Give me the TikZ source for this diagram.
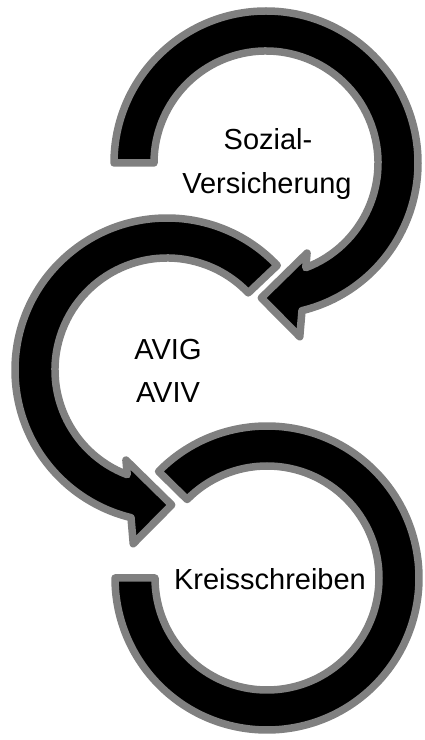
\documentclass[tikz,border=0pt]{standalone}
\usepackage{fontspec}
\setmainfont{Liberation Sans}
\begin{document}
\begin{tikzpicture}[x=1pt,y=1pt,
  ring/.style={fill=black,draw={rgb,255:red,128;green,128;blue,128},line width=7.5pt,line join=round},
  lbl/.style={font=\fontsize{29}{35}\selectfont,inner sep=0pt,anchor=base}]
\useasboundingbox (0,0) rectangle (425,740);
% circle 1 (top), clockwise with arrowhead
\begin{scope}[shift={(266,577)}]
\draw[ring] (180:152) arc[start angle=180,end angle=-76.3,radius=152]
  -- (-79:177) -- (-92:135) -- (-65.5:99) -- (-69.2:112)
  arc[start angle=-69.2,end angle=180,radius=112] -- cycle;
\end{scope}
% circle 2 (middle), counterclockwise with arrowhead
\begin{scope}[shift={(167,370)}]
\draw[ring] (43.5:152) arc[start angle=43.5,end angle=256.3,radius=152]
  -- (259:177) -- (272:135) -- (245.5:99) -- (249.2:112)
  arc[start angle=249.2,end angle=43.5,radius=112] -- cycle;
\end{scope}
% circle 3 (bottom), clockwise, flat ends
\begin{scope}[shift={(267,162)}]
\draw[ring] (135.5:152) arc[start angle=135.5,end angle=-180,radius=152]
  -- (-180:112) arc[start angle=-180,end angle=135.5,radius=112] -- cycle;
\end{scope}
\node[lbl] (t1a) at (268,590) {Sozial-};
\node[lbl] (t1b) at (267,546) {Versicherung};
\node[lbl] (t2a) at (168,380) {AVIG};
\node[lbl] (t2b) at (168,337) {AVIV};
\node[lbl] (t3) at (270,150) {Kreisschreiben};
\end{tikzpicture}
\end{document}
